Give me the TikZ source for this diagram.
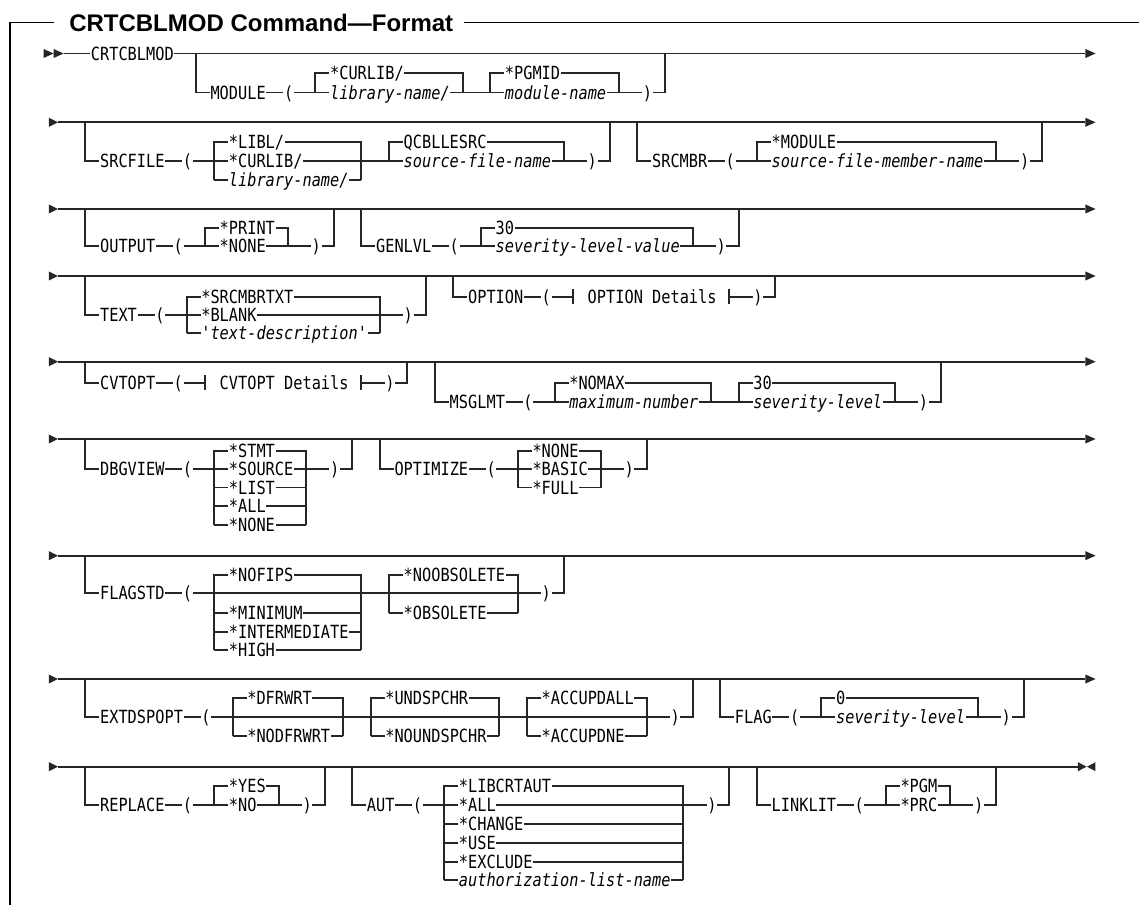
\documentclass[tikz,border=0pt]{standalone}
\usepackage{fontspec}
\newfontfamily\rrmono[FakeStretch=0.843]{DejaVu Sans Mono}
\newfontfamily\rrsans{Liberation Sans}
\newcommand\K[4]{\node[kw] (#1) at (#2,#3+6.6) {#4};}
\newcommand\V[4]{\node[var] (#1) at (#2,#3+6.6) {#4};}
\newcommand\MainRow[2]{\draw[rr] (#1,#2) -- (113.2,#2);
  \fill[arr] (113.2,#2-4.5) -- (114.3,#2) -- (113.2,#2+4.5) -- cycle;}
\newcommand\StartArrow[1]{\fill[arr] (0.54,#1-4.5) -- (1.52,#1) -- (0.54,#1+4.5) -- cycle;}
\newcommand\Loop[4]{\draw[rr] (#1,#3) -- (#1,#4) -- (#2,#4) -- (#2,#3);}
\newcommand\Grp[4]{\draw[rr] (#1,#4) -- (#1,#3) -- (#2,#3) -- (#2,#4);}
\newcommand\Hl[3]{\draw[rr] (#1,#3) -- (#2,#3);}
\newcommand\Bar[2]{\draw[rr] (#1,#2-7.5) -- (#1,#2+7.5);}
\begin{document}
\begin{tikzpicture}[x=6.9pt,y=-0.75pt,
  rr/.style={line width=1.4pt,draw=black!85,line join=miter},
  arr/.style={fill=black!85},
  kw/.style={anchor=base west,inner xsep=0.5pt,inner ysep=0pt,fill=white,text=black,font=\rrmono\fontsize{13.6pt}{15pt}\selectfont},
  var/.style={kw,font=\rrmono\fontsize{13.6pt}{15pt}\selectfont\itshape},
  ttl/.style={anchor=base west,inner sep=0pt,font=\rrsans\bfseries\fontsize{18pt}{20pt}\selectfont},
  frame/.style={line width=1pt,draw=black}]
\useasboundingbox[fill=white] (-4.7826,0) rectangle (119.0217,905);
% frame and title
\draw[frame] (-3.696,905) -- (-3.696,22.7) -- (1.141,22.7);
\draw[frame] (45.61,22.7) -- (119.02,22.7);
\node[ttl] (title) at (2.717,31.6) {CRTCBLMOD Command—Format};
% ---------------- Row 1
\fill[arr] (-0.043,49) -- (1.043,53.5) -- (-0.043,58) -- cycle;
\fill[arr] (1.043,49) -- (2.13,53.5) -- (1.043,58) -- cycle;
\MainRow{2.13}{53.5}
\Loop{16.5}{67.5}{53.5}{92.5}
\Grp{29.5}{45.5}{73}{92.5}
\Grp{48.5}{62.5}{73}{92.5}
\K{crt}{5}{53.5}{CRTCBLMOD}
\K{mod}{18}{92.5}{MODULE}
\K{mo1}{26}{92.5}{(}
\K{mo2}{31}{73}{*CURLIB/}
\V{mo3}{31}{92.5}{library-name/}
\K{mo4}{50}{73}{*PGMID}
\V{mo5}{50}{92.5}{module-name}
\K{mo6}{65}{92.5}{)}
% ---------------- Row 2
\StartArrow{122.3}
\MainRow{1.52}{122.3}
\Loop{4.5}{61.5}{122.3}{161}
\Grp{18.5}{34.5}{141.7}{180.3}
\Hl{18.5}{34.5}{180.3}
\Grp{37.5}{56.5}{141.7}{161}
\Loop{64.5}{108.5}{122.3}{161}
\Grp{77.5}{103.5}{141.7}{161}
\K{sf}{6}{161}{SRCFILE}
\K{sf1}{15}{161}{(}
\K{sf2}{20}{141.7}{*LIBL/}
\K{sf3}{20}{161}{*CURLIB/}
\V{sf4}{20}{180.3}{library-name/}
\K{sf5}{39}{141.7}{QCBLLESRC}
\V{sf6}{39}{161}{source-file-name}
\K{sf7}{59}{161}{)}
\K{sm}{66}{161}{SRCMBR}
\K{sm1}{74}{161}{(}
\K{sm2}{79}{141.7}{*MODULE}
\V{sm3}{79}{161}{source-file-member-name}
\K{sm4}{106}{161}{)}
% ---------------- Row 3
\StartArrow{209}
\MainRow{1.52}{209}
\Loop{4.5}{31.5}{209}{246}
\Grp{17.5}{26.5}{228}{246}
\Loop{34.5}{75.5}{209}{246}
\Grp{47.5}{70.5}{228}{246}
\K{ou}{6}{246}{OUTPUT}
\K{ou1}{14}{246}{(}
\K{ou2}{19}{228}{*PRINT}
\K{ou3}{19}{246}{*NONE}
\K{ou4}{29}{246}{)}
\K{gl}{36}{246}{GENLVL}
\K{gl1}{44}{246}{(}
\K{gl2}{49}{228}{30}
\V{gl3}{49}{246}{severity-level-value}
\K{gl4}{73}{246}{)}
% ---------------- Row 4
\StartArrow{276}
\MainRow{1.52}{276}
\Loop{4.5}{41.5}{276}{315}
\Grp{15.5}{36.5}{296.7}{333.3}
\Hl{15.5}{36.5}{333.3}
\draw[rr] (44.5,276) -- (44.5,296.7) -- (57.5,296.7);
\Bar{57.5}{296.7}
\Bar{74.5}{296.7}
\draw[rr] (74.5,296.7) -- (79.5,296.7) -- (79.5,276);
\K{tx}{6}{315}{TEXT}
\K{tx1}{12}{315}{(}
\K{tx2}{17}{296.7}{*SRCMBRTXT}
\K{tx3}{17}{315}{*BLANK}
\V{tx4}{17}{333.3}{'text-description'}
\K{tx5}{39}{315}{)}
\K{op}{46}{296.7}{OPTION}
\K{op1}{54}{296.7}{(}
\K{op2}{59}{296.7}{OPTION Details}
\K{op3}{77}{296.7}{)}
% ---------------- Row 5
\StartArrow{361.7}
\MainRow{1.52}{361.7}
\draw[rr] (4.5,361.7) -- (4.5,383) -- (17.5,383);
\Bar{17.5}{383}
\Bar{34.5}{383}
\draw[rr] (34.5,383) -- (39.5,383) -- (39.5,361.7);
\Loop{42.5}{97.5}{361.7}{401.7}
\Grp{55.5}{72.5}{383}{401.7}
\Grp{75.5}{92.5}{383}{401.7}
\K{cv}{6}{383}{CVTOPT}
\K{cv1}{14}{383}{(}
\K{cv2}{19}{383}{CVTOPT Details}
\K{cv3}{37}{383}{)}
\K{ms}{44}{401.7}{MSGLMT}
\K{ms1}{52}{401.7}{(}
\K{ms2}{57}{383}{*NOMAX}
\V{ms3}{57}{401.7}{maximum-number}
\K{ms4}{77}{383}{30}
\V{ms5}{77}{401.7}{severity-level}
\K{ms6}{95}{401.7}{)}
% ---------------- Row 6
\StartArrow{439}
\MainRow{1.52}{439}
\Loop{4.5}{33.5}{439}{469}
\Grp{18.5}{28.5}{451}{525}
\Hl{18.5}{28.5}{487.5}
\Hl{18.5}{28.5}{506}
\Hl{18.5}{28.5}{525}
\Loop{36.5}{65.5}{439}{469}
\Grp{51.5}{60.5}{451}{487.5}
\Hl{51.5}{60.5}{487.5}
\K{db}{6}{469}{DBGVIEW}
\K{db1}{15}{469}{(}
\K{db2}{20}{451}{*STMT}
\K{db3}{20}{469}{*SOURCE}
\K{db4}{20}{487.5}{*LIST}
\K{db5}{20}{506}{*ALL}
\K{db6}{20}{525}{*NONE}
\K{db7}{31}{469}{)}
\K{ot}{38}{469}{OPTIMIZE}
\K{ot1}{48}{469}{(}
\K{ot2}{53}{451}{*NONE}
\K{ot3}{53}{469}{*BASIC}
\K{ot4}{53}{487.5}{*FULL}
\K{ot5}{63}{469}{)}
% ---------------- Row 7
\StartArrow{555.7}
\MainRow{1.52}{555.7}
\Loop{4.5}{56.5}{555.7}{593.3}
\Grp{18.5}{34.5}{575}{650}
\Hl{18.5}{34.5}{613.3}
\Hl{18.5}{34.5}{631.7}
\Hl{18.5}{34.5}{650}
\Grp{37.5}{51.5}{575}{613.3}
\Hl{37.5}{51.5}{613.3}
\K{fs}{6}{593.3}{FLAGSTD}
\K{fs1}{15}{593.3}{(}
\K{fs2}{20}{575}{*NOFIPS}
\K{fs3}{20}{613.3}{*MINIMUM}
\K{fs4}{20}{631.7}{*INTERMEDIATE}
\K{fs5}{20}{650}{*HIGH}
\K{fs6}{39}{575}{*NOOBSOLETE}
\K{fs7}{39}{613.3}{*OBSOLETE}
\K{fs8}{54}{593.3}{)}
% ---------------- Row 8
\StartArrow{679}
\MainRow{1.52}{679}
\Loop{4.5}{70.5}{679}{716.7}
\Grp{20.5}{32.5}{698.3}{736}
\Hl{20.5}{32.5}{736}
\Grp{35.5}{49.5}{698.3}{736}
\Hl{35.5}{49.5}{736}
\Grp{52.5}{65.5}{698.3}{736}
\Hl{52.5}{65.5}{736}
\Loop{73.5}{106.5}{679}{716.7}
\Grp{84.5}{101.5}{698.3}{716.7}
\K{ex}{6}{716.7}{EXTDSPOPT}
\K{ex1}{17}{716.7}{(}
\K{ex2}{22}{698.3}{*DFRWRT}
\K{ex3}{22}{736}{*NODFRWRT}
\K{ex4}{37}{698.3}{*UNDSPCHR}
\K{ex5}{37}{736}{*NOUNDSPCHR}
\K{ex6}{54}{698.3}{*ACCUPDALL}
\K{ex7}{54}{736}{*ACCUPDNE}
\K{ex8}{68}{716.7}{)}
\K{fl}{75}{716.7}{FLAG}
\K{fl1}{81}{716.7}{(}
\K{fl2}{86}{698.3}{0}
\V{fl3}{86}{716.7}{severity-level}
\K{fl4}{104}{716.7}{)}
% ---------------- Row 9
\StartArrow{766.7}
\draw[rr] (1.52,766.7) -- (112.39,766.7);
\fill[arr] (112.39,762.2) -- (113.32,766.7) -- (112.39,771.2) -- cycle;
\fill[arr] (114.29,762.2) -- (113.37,766.7) -- (114.29,771.2) -- cycle;
\Loop{4.5}{30.5}{766.7}{805}
\Grp{18.5}{25.5}{786}{805}
\Loop{33.5}{74.5}{766.7}{805}
\Grp{43.5}{69.5}{786}{880}
\Hl{43.5}{69.5}{824}
\Hl{43.5}{69.5}{842.7}
\Hl{43.5}{69.5}{861.7}
\Hl{43.5}{69.5}{880}
\Loop{77.5}{103.5}{766.7}{805}
\Grp{91.5}{98.5}{786}{805}
\K{rp}{6}{805}{REPLACE}
\K{rp1}{15}{805}{(}
\K{rp2}{20}{786}{*YES}
\K{rp3}{20}{805}{*NO}
\K{rp4}{28}{805}{)}
\K{au}{35}{805}{AUT}
\K{au1}{40}{805}{(}
\K{au2}{45}{786}{*LIBCRTAUT}
\K{au3}{45}{805}{*ALL}
\K{au4}{45}{824}{*CHANGE}
\K{au5}{45}{842.7}{*USE}
\K{au6}{45}{861.7}{*EXCLUDE}
\V{au7}{45}{880}{authorization-list-name}
\K{au8}{72}{805}{)}
\K{ll}{79}{805}{LINKLIT}
\K{ll1}{88}{805}{(}
\K{ll2}{93}{786}{*PGM}
\K{ll3}{93}{805}{*PRC}
\K{ll4}{101}{805}{)}
\end{tikzpicture}
\end{document}
